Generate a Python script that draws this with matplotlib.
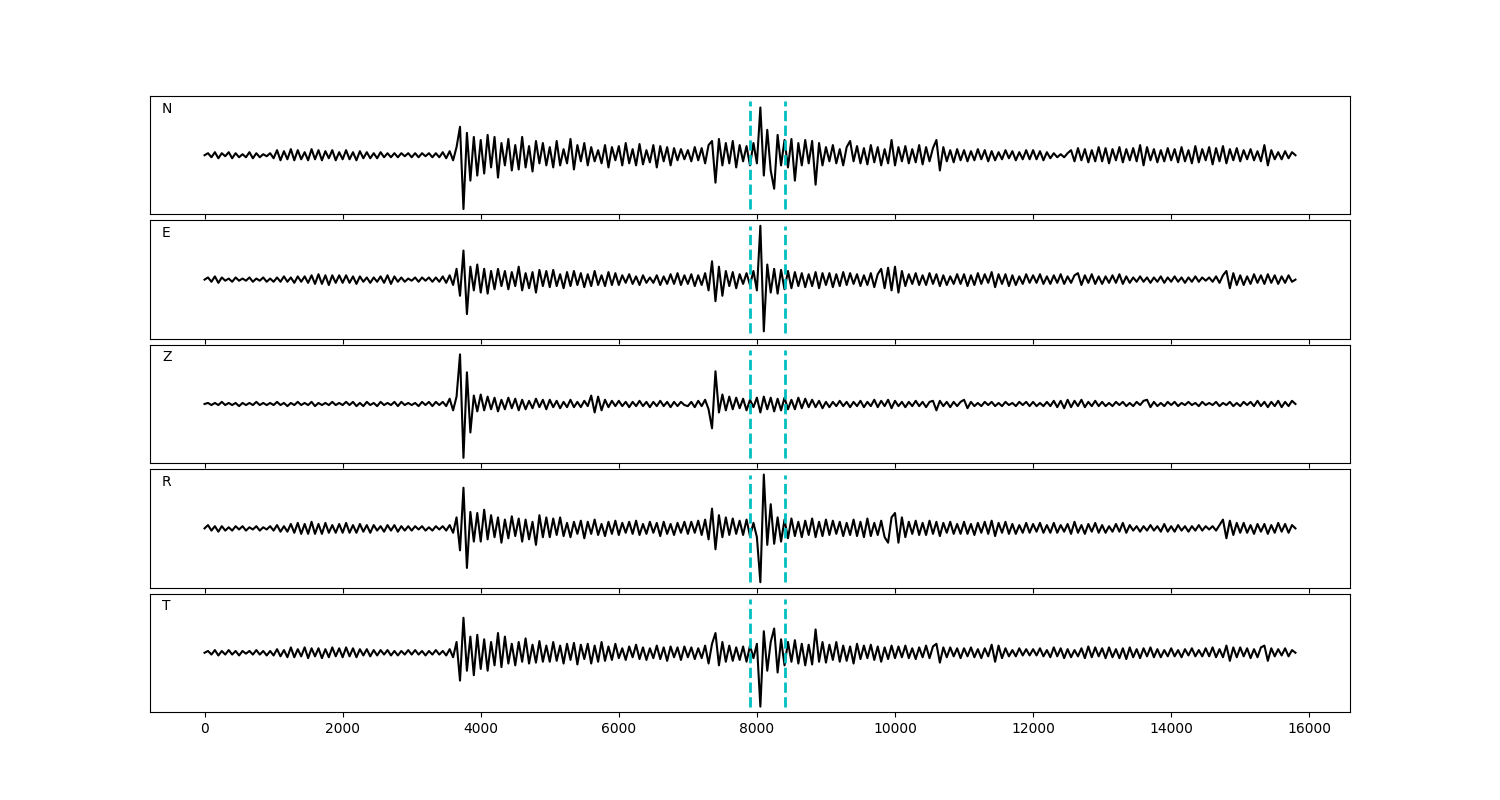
import numpy as np
import matplotlib
matplotlib.use("Agg")
import matplotlib.pyplot as plt

# sample spacing of the traces (one value every 50 samples)
step = 50
pick_times = [7900, 8400]
components = ["N", "E", "Z", "R", "T"]

n_trace = [
    0, 2, -2, 3, -3, 2, -1, 3, -3, 2, -2, 1, -2, 3, -3, 2, -2, 1, -1, 2,
    -3, 5, -5, 4, -4, 6, -5, 5, -4, 3, -5, 6, -4, 5, -5, 4, -3, 5, -5, 3,
    -4, 5, -4, 3, -5, 4, -3, 3, -3, 2, -3, 3, -2, 2, -2, 2, -2, 2, -1, 2,
    -2, 2, -2, 2, -1, 2, -2, 2, -2, 3, -3, 4, -5, 8, 28, -53, 22, -25, 18, -20,
    15, -18, 20, -12, 18, -22, 12, -10, 16, -15, 10, -14, 18, -12, 9, -16, 14, -8, 12, -10,
    8, -12, 14, -10, 6, -8, 16, -14, 10, -6, 12, -10, 8, -6, 5, -8, 10, -12, 8, -5,
    9, -10, 12, -8, 6, -10, 11, -9, 5, -7, 10, -12, 9, -6, 8, -10, 7, -5, 6, -4,
    5, -6, 8, -5, 7, -8, 10, 14, -27, 16, -10, 12, -8, 14, -12, 10, -6, 9, -10, 12,
    -8, 47, -20, 25, -15, -33, 20, -10, 15, -12, 16, -25, 12, -10, 15, -8, 14, -29, 12, -10,
    8, -6, 10, -8, 6, -10, 8, 14, -6, 9, -8, 7, -9, 10, -7, 8, -10, 6, -8, 15,
    -10, 8, -6, 9, -8, 6, -7, 10, -9, 8, -6, 7, 15, -15, 8, -6, 5, -7, 6, -5,
    5, -6, 4, -5, 6, -4, 5, -6, 4, -5, 3, -4, 5, -3, 4, -5, 3, -4, 5, -4,
    5, -4, 4, -5, 3, -3, 2, -2, 1, -2, 2, 5, -6, 7, -5, 6, -7, 5, -6, 8,
    -6, 7, -8, 6, -5, 8, -7, 6, -5, 7, -6, 10, -10, 8, -5, 6, -7, 5, -6, 7,
    -5, 6, -7, 8, -6, 5, -8, 9, -7, 6, -5, 8, -9, 7, -6, 9, -8, 6, -5, 7,
    -6, 5, -4, 6, -5, 4, -6, 10, -10, 5, -4, 3, -4, 4, -3, 3, 0,
]

e_trace = [
    0, 2, -2, 3, -3, 2, -1, 1, -2, 2, -1, 1, -1, 2, -2, 1, -1, 2, -2, 1,
    -2, 2, -2, 3, -2, 2, -3, 3, -2, 3, -3, 4, -4, 5, -4, 4, -5, 4, -3, 4,
    -3, 4, -3, 3, -4, 3, -2, 2, -3, 2, -2, 3, -3, 4, -4, 3, -2, 2, -2, 1,
    -1, 2, -2, 2, -1, 2, -2, 2, -2, 3, -3, 4, -5, 10, -15, 27, -32, 12, -10, 14,
    -12, 10, -13, 8, -9, 10, -6, 8, -9, 7, -6, 12, -10, 6, -8, 7, -12, 9, -6, 8,
    -7, 9, -6, 5, -8, 7, -6, 8, -5, 6, -7, 5, -6, 8, -5, 4, -6, 7, -5, 6,
    -5, 4, -3, 5, -4, 3, -5, 4, -3, 2, -3, 4, -5, 3, -4, 5, -4, 6, -5, 4,
    -4, 5, -6, 4, -5, 6, -10, 17, -20, 12, -15, 8, -6, 7, -8, 5, -4, 6, -5, 8,
    -10, 50, -48, 14, -12, 10, -13, 9, -9, 8, -8, 7, -6, 6, -7, 5, -6, 7, -8, 6,
    -5, 6, -7, 5, -6, 7, -5, 6, -4, 5, -6, 4, -5, 6, -7, 5, 10, -8, 11, -10,
    12, -12, 8, -6, 5, -4, 6, -5, 4, -5, 6, -4, 5, -6, 4, -5, 3, -4, 5, -4,
    5, -6, 4, -5, 6, -4, 5, -3, 7, -7, 5, -4, 5, -6, 4, -5, 3, -4, 5, -3,
    4, -3, 5, -4, 3, -4, 4, -3, 5, -4, 3, -3, 4, 6, -5, 4, -3, 5, -4, 3,
    -4, 3, -3, 4, -3, 5, -4, 3, -3, 2, -2, 3, -2, 2, -3, 2, -2, 3, -3, 2,
    -2, 3, -2, 2, -3, 2, -2, 3, -2, 2, -1, 2, -2, 3, -3, 4, 8, -8, 6, -5,
    4, -5, 3, -4, 5, -3, 4, -4, 5, -3, 4, -4, 3, -3, 4, -2, 0,
]

z_trace = [
    0, 1, -1, 1, -1, 2, -1, 1, -1, 1, -2, 1, -1, 1, -1, 2, -1, 1, -1, 1,
    -1, 2, -1, 1, -2, 1, -1, 2, -1, 1, -1, 2, -2, 1, -1, 1, -1, 2, -1, 1,
    -1, 2, -1, 2, -2, 1, -2, 2, -1, 1, -2, 2, -1, 1, -1, 2, -2, 2, -1, 1,
    -1, 1, -2, 2, -1, 2, -2, 2, -1, 2, -2, 5, -6, 7, 47, -51, 30, -27, 8, -7,
    9, -6, 7, -5, 6, -7, 4, -5, 6, -4, 5, -6, 4, -5, 3, -4, 5, -3, 4, -5,
    4, -3, 3, -4, 2, -3, 4, -3, 2, -3, 3, -2, 8, -8, 7, -6, 4, -3, 3, -2,
    3, -2, 2, -3, 2, -2, 3, -2, 2, -3, 2, -2, 3, -2, 2, -3, 2, -2, 2, -1,
    -2, 2, -3, 3, -2, 4, -5, -23, 31, -8, 9, -6, 7, -5, 6, -4, 5, -6, 4, -3,
    6, -8, 7, -5, 6, -7, 5, -6, 6, -5, 4, -5, 6, -4, 5, -3, 4, -3, 3, -4,
    2, -3, 2, -2, 3, -2, 2, -3, 2, -2, 3, -3, 2, -2, 4, -3, 3, -2, 4, -4,
    3, -2, 2, -3, 2, -2, 3, -2, 2, -3, 2, 3, -6, 3, -2, 2, -3, 2, -2, 2,
    4, -4, 2, -2, 1, -2, 2, -1, 2, -2, 1, -2, 2, -1, 1, -2, 2, -1, 2, -2,
    2, -2, 1, -2, 2, -2, 3, -3, 3, -4, 4, -3, 3, -2, 4, -3, 2, -2, 3, -2,
    2, -2, 1, -2, 2, -1, 2, -2, 1, -2, 2, -1, 3, 4, -3, 2, -2, 1, -2, 2,
    -1, 2, -2, 1, -1, 2, -1, 1, -2, 2, -1, 1, -1, 2, -2, 1, -1, 2, -2, 1,
    -2, 2, -1, 2, -2, 3, -2, 2, -3, 2, -2, 3, -3, 2, -2, 3, 0,
]

r_trace = [
    0, 3, -2, 2, -3, 2, -2, 1, -2, 2, -1, 2, -2, 1, -1, 2, -2, 1, -1, 2,
    -2, 3, -3, 2, -3, 4, -4, 5, -5, 4, -5, 6, -5, 4, -5, 5, -4, 3, -4, 4,
    -4, 5, -4, 3, -4, 4, -3, 3, -4, 3, -2, 2, -3, 3, -2, 3, -3, 2, -2, 2,
    -2, 2, -1, 2, -2, 1, -2, 2, -1, 2, -2, 3, -4, 10, -20, 37, -36, 15, -12, 14,
    -12, 17, -10, 12, -8, 10, -13, 8, -9, 11, -7, 9, -12, 8, -10, 6, -15, 12, -8, 10,
    -8, 9, -6, 10, -7, 5, -8, 6, -5, 7, -9, 6, -5, 8, -6, 4, -7, 6, -5, 7,
    -6, 5, -4, 6, -5, 7, -6, 4, -5, 6, -4, 5, -7, 6, -5, 4, -6, 5, -4, 6,
    -5, 6, -4, 7, -6, 8, -10, 18, -19, 12, -8, 10, -6, 9, -5, 7, -6, 8, -7, 5,
    -8, -49, 49, -15, 22, -14, 10, -12, 8, -9, 9, -7, 6, -8, 7, -6, 9, -8, 6, -7,
    8, -6, 7, -5, 6, -7, 5, -6, 8, -7, 6, -8, 9, -7, 5, -6, 7, -8, -13, 10,
    14, -13, 10, -8, 6, -5, 7, -6, 5, -6, 7, -5, 6, -7, 5, -4, 6, -5, 4, -5,
    6, -5, 4, -6, 5, -4, 6, -5, 7, -7, 5, -4, 6, -5, 4, -5, 3, -4, 5, -4,
    4, -3, 5, -4, 3, -4, 5, -4, 3, -3, 4, -5, 6, -4, 3, -5, 4, -3, 5, -4,
    3, -4, 2, -3, 4, -3, 5, -4, 3, -2, 2, -3, 2, -2, 3, -2, 2, -3, 4, -3,
    2, -3, 3, -2, 2, -3, 2, -2, 3, -2, 2, -1, 2, -2, 3, 8, -9, 7, -6, 5,
    -4, 5, -4, 3, -5, 4, -3, 4, -5, 3, -4, 5, -3, 4, -4, 3, 0,
]

t_trace = [
    0, 2, -2, 3, -3, 2, -2, 3, -2, 2, -3, 2, -1, 2, -2, 3, -2, 2, -3, 2,
    -3, 4, -4, 3, -5, 6, -5, 4, -4, 6, -6, 5, -4, 5, -6, 4, -5, 6, -4, 5,
    -5, 6, -4, 5, -5, 4, -3, 4, -4, 3, -3, 3, -2, 3, -3, 2, -3, 2, -2, 3,
    -2, 3, -2, 2, -3, 2, -2, 3, -2, 2, -3, 4, -5, 12, -31, 39, -20, 18, -25, 20,
    -18, 15, -20, 12, -14, 22, -16, 18, -12, 10, -14, 12, -10, 16, -12, 9, -11, 13, -10, 8,
    -10, 12, -9, 8, -12, 10, -8, 11, -13, 9, -7, 10, -12, 8, -10, 12, -9, 7, -8, 10,
    -6, 5, -8, 7, -5, 9, -7, 6, -8, 5, -6, 8, -7, 6, -9, 7, -5, 6, -8, 7,
    -5, 6, -7, 5, -6, 8, -12, 10, 22, -14, 12, -10, 8, -9, 6, -8, 7, -10, 8, -6,
    10, -60, 24, -20, 12, 27, -22, 15, -14, 12, -10, 14, -12, 10, -14, 9, -13, 26, -10, 12,
    -11, 9, -8, 12, -10, 8, -9, 7, -12, 10, -7, 8, -6, 9, -8, 7, -10, 6, -7, 8,
    -6, 7, -5, 8, -6, 5, -7, 6, -5, 8, -6, 7, 10, -11, 6, -5, 6, -4, 5, -6,
    5, -4, 6, -5, 4, -6, 5, -4, 9, -10, 8, -6, 5, -4, 3, -4, 5, -3, 4, -3,
    4, -3, 5, -4, 3, -5, 6, -4, 5, -6, 4, -5, 3, -4, 5, -6, 7, -5, 6, -4,
    5, -6, 6, -5, 4, -6, 5, -7, 6, -5, 4, -6, 5, -4, 6, -5, 4, -5, 3, -4,
    5, -4, 3, -5, 4, -3, 5, -4, 3, -4, 5, -4, 6, -5, 4, -5, 8, -9, 6, -5,
    6, -4, 5, -6, 4, -5, 6, 8, -9, 5, -4, 4, -3, 5, -4, 3, 0,
]

traces = [n_trace, e_trace, z_trace, r_trace, t_trace]

fig, axes = plt.subplots(5, 1, figsize=(15, 8), sharex=True)
fig.subplots_adjust(left=0.1, right=0.9, top=0.88, bottom=0.11, hspace=0.05)

for ax, comp, tr in zip(axes, components, traces):
    y = np.array(tr, dtype=float)
    t = np.arange(len(y)) * step
    amp = np.abs(y).max()
    ax.plot(t, y, color="k", lw=1.5)
    # pick window
    ax.vlines(pick_times, -amp, amp, colors="c", linestyles="--", lw=2)
    ax.set_yticks([])
    ax.text(0.01, 0.86, comp, transform=ax.transAxes)

plt.savefig("out.png", dpi=100)
